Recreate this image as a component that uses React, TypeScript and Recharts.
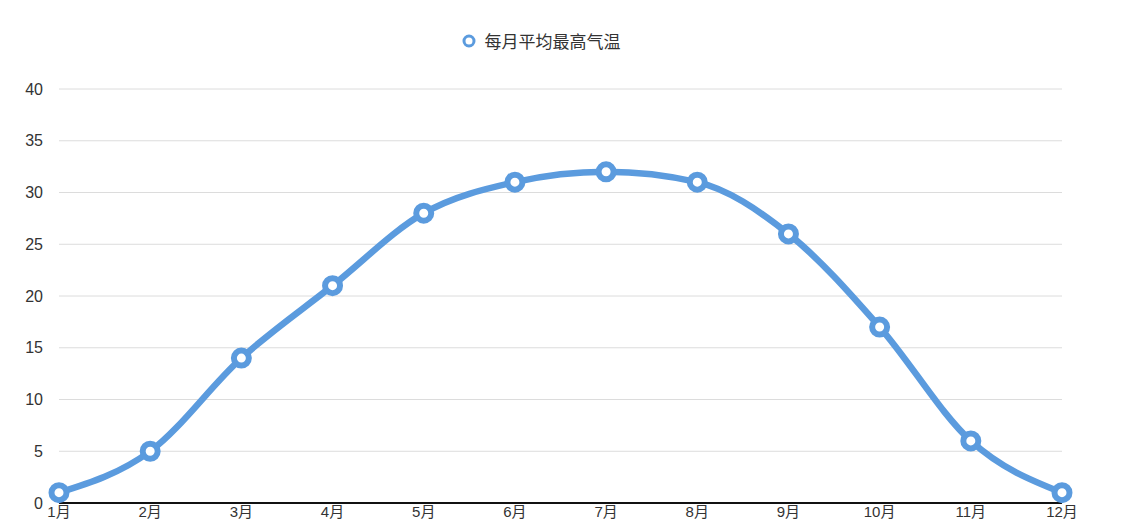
import React from 'react';
import { LineChart, Line, XAxis, YAxis, CartesianGrid, Legend } from 'recharts';

const months = ['1月', '2月', '3月', '4月', '5月', '6月', '7月', '8月', '9月', '10月', '11月', '12月'];
const maxTemps = [1, 5, 14, 21, 28, 31, 32, 31, 26, 17, 6, 1];
const yTicks = [0, 5, 10, 15, 20, 25, 30, 35, 40];
const seriesName = '每月平均最高气温';

const BLUE = '#5b9bde';
const FONT = '"Liberation Sans", "Noto Sans CJK SC", sans-serif';

const chartData = months.map((month, i) => ({ month, temp: maxTemps[i] }));

function LegendContent() {
  return (
    <div
      style={{
        display: 'flex',
        alignItems: 'center',
        justifyContent: 'center',
        fontFamily: '"Noto Sans CJK SC", sans-serif',
        fontSize: 17,
        color: '#333',
      }}
    >
      <svg width={16} height={16} style={{ marginRight: 8 }}>
        <circle cx={8} cy={8} r={5} fill="#fff" stroke={BLUE} strokeWidth={3} />
      </svg>
      <span>{seriesName}</span>
    </div>
  );
}

export default function App() {
  return (
    <div style={{ width: 1115, height: 517, background: '#fff' }}>
      <LineChart
        width={1115}
        height={517}
        data={chartData}
        margin={{ top: 81, right: 61, left: 0, bottom: 0 }}
      >
        <CartesianGrid vertical={false} stroke="#dcdcdc" />
        <XAxis
          dataKey="month"
          height={22}
          axisLine={{ stroke: '#111', strokeWidth: 2 }}
          tickLine={false}
          tickSize={0}
          tickMargin={3}
          interval={0}
          tick={{ fontSize: 15, fill: '#333', fontFamily: FONT }}
        />
        <YAxis
          width={51}
          domain={[0, 40]}
          ticks={yTicks}
          axisLine={false}
          tickLine={false}
          tickMargin={10}
          tick={{ fontSize: 16, fill: '#333', fontFamily: FONT }}
        />
        <Legend
          layout="horizontal"
          verticalAlign="middle"
          align="center"
          wrapperStyle={{ top: 20, left: -25, width: 1115 }}
          content={<LegendContent />}
        />
        <Line
          type="monotone"
          dataKey="temp"
          name={seriesName}
          stroke={BLUE}
          strokeWidth={6.5}
          dot={{ r: 7.5, fill: '#fff', stroke: BLUE, strokeWidth: 6 }}
          activeDot={false}
          isAnimationActive={false}
        />
      </LineChart>
    </div>
  );
}
